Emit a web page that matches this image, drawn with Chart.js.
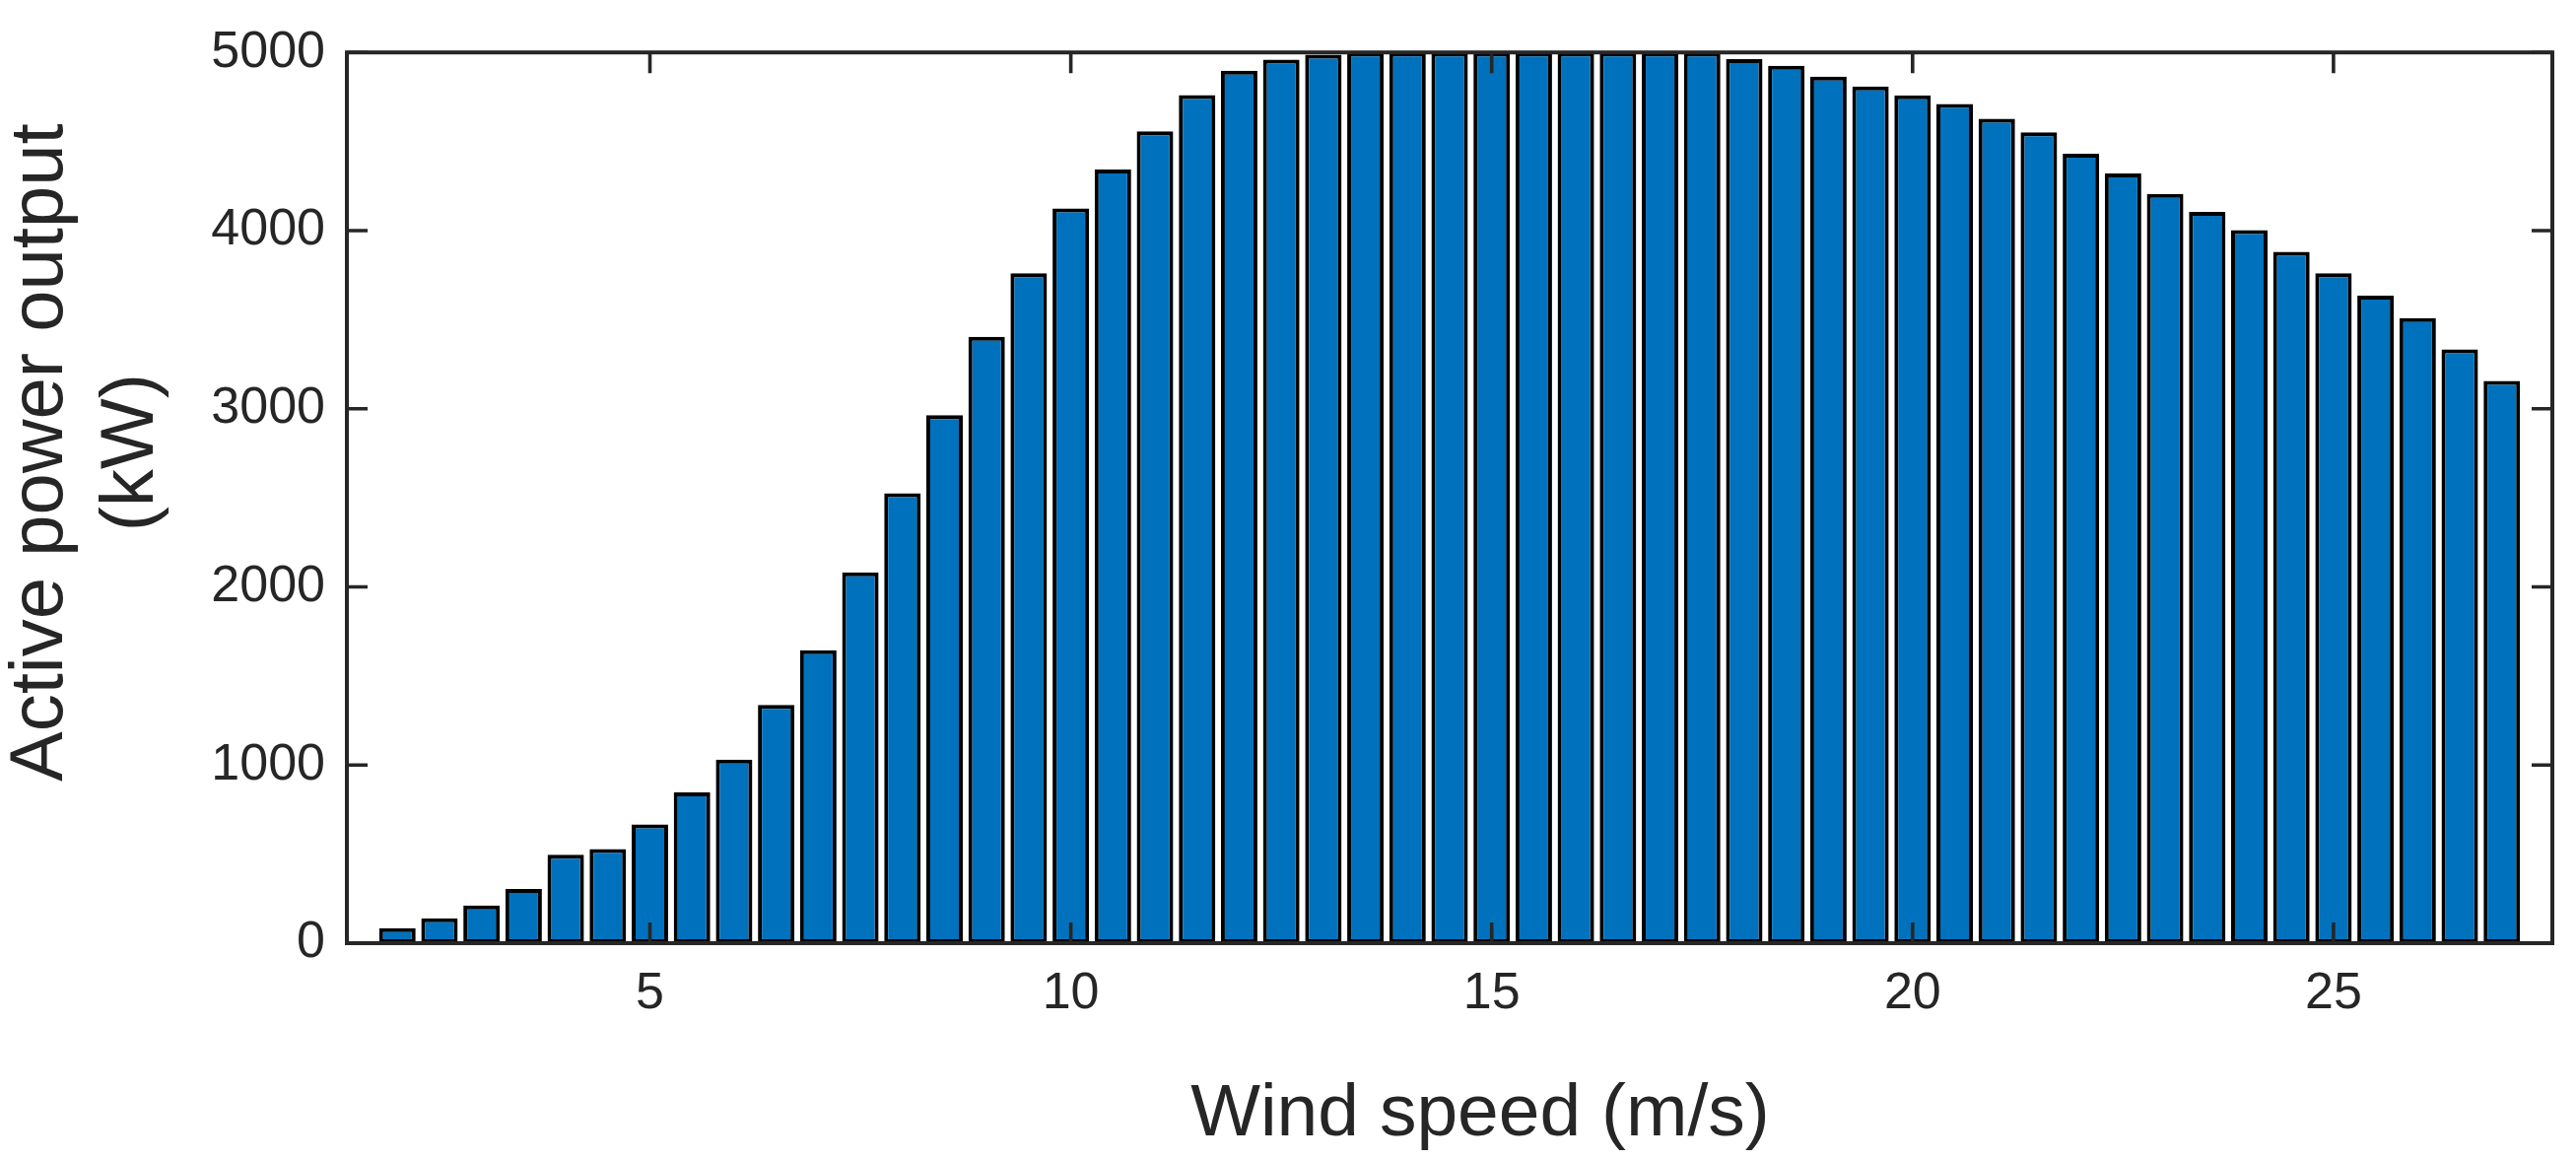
<!DOCTYPE html>
<html>
<head>
<meta charset="utf-8">
<script src="https://cdn.jsdelivr.net/npm/chart.js@4.4.1/dist/chart.umd.min.js"></script>
<style>
  html, body { margin: 0; padding: 0; background: #fff; }
  #wrap { width: 2614px; height: 1177px; }
</style>
</head>
<body>
<div id="wrap"><canvas id="powerChart" width="2614" height="1177"></canvas></div>
<script>
// wind speed bins (m/s)
const windSpeed = [2, 2.5, 3, 3.5, 4, 4.5, 5, 5.5, 6, 6.5, 7, 7.5, 8, 8.5, 9, 9.5,
    10, 10.5, 11, 11.5, 12, 12.5, 13, 13.5, 14, 14.5, 15, 15.5, 16, 16.5, 17, 17.5,
    18, 18.5, 19, 19.5, 20, 20.5, 21, 21.5, 22, 22.5, 23, 23.5, 24, 24.5, 25, 25.5,
    26, 26.5, 27];

// active power output (kW)
const powerKW = [84, 139, 212, 304, 496, 529, 666, 847, 1030, 1338, 1645, 2082,
    2525, 2964, 3404, 3761, 4124, 4343, 4557, 4760, 4898, 4960, 4987,
    5000, 5000, 5000, 5000, 5000, 5000, 5000, 5000, 5000,
    4963, 4925, 4864, 4809, 4759, 4711, 4628, 4551, 4431, 4320, 4206, 4105,
    4003, 3881, 3761, 3635, 3509, 3333, 3156];

const xTicks = [5, 10, 15, 20, 25];
const yTicks = [0, 1000, 2000, 3000, 4000, 5000];

const xTitle = 'Wind speed (m/s)';
const yTitle = ['Active power output', '(kW)'];

const axisColor = '#262626';
const fontFamily = '"Liberation Sans", Arial, Helvetica, sans-serif';

// MATLAB style box with inward ticks on all four sides
const boxPlugin = {
    id: 'boxPlugin',
    afterDatasetsDraw(chart) {
        const { ctx, chartArea: a, scales: { x, y } } = chart;
        const len = 21;
        ctx.save();
        ctx.strokeStyle = axisColor;
        ctx.lineWidth = 3.6;
        ctx.beginPath();
        xTicks.forEach(v => {
            const px = x.getPixelForValue(v);
            ctx.moveTo(px, a.bottom); ctx.lineTo(px, a.bottom - len);
            ctx.moveTo(px, a.top); ctx.lineTo(px, a.top + len);
        });
        yTicks.forEach(v => {
            const py = y.getPixelForValue(v);
            ctx.moveTo(a.left, py); ctx.lineTo(a.left + len, py);
            ctx.moveTo(a.right, py); ctx.lineTo(a.right - len, py);
        });
        ctx.stroke();
        ctx.lineWidth = 4;
        ctx.strokeRect(a.left, a.top, a.right - a.left, a.bottom - a.top);
        ctx.restore();
    }
};

const titlePlugin = {
    id: 'titlePlugin',
    afterDraw(chart) {
        const { ctx, chartArea: a } = chart;
        ctx.save();
        ctx.fillStyle = axisColor;
        ctx.textAlign = 'center';
        ctx.textBaseline = 'alphabetic';
        // x title
        ctx.font = '75px ' + fontFamily;
        ctx.fillText(xTitle, (a.left + a.right) / 2 + 31, a.bottom + 195);
        // y title, two lines
        ctx.font = '76px ' + fontFamily;
        const cy = a.top + 406;
        [a.left - 289, a.left - 197].forEach((bx, i) => {
            ctx.save();
            ctx.translate(bx, cy);
            ctx.rotate(-Math.PI / 2);
            ctx.fillText(yTitle[i], 0, 0);
            ctx.restore();
        });
        ctx.restore();
    }
};

const ctx = document.getElementById('powerChart').getContext('2d');
new Chart(ctx, {
    type: 'bar',
    data: {
        datasets: [{
            data: windSpeed.map((w, i) => ({ x: w, y: powerKW[i] })),
            backgroundColor: '#0072BD',
            borderColor: '#000000',
            borderWidth: 4,
            borderSkipped: false,
            barPercentage: 0.867,
            categoryPercentage: 1.0
        }]
    },
    options: {
        responsive: false,
        devicePixelRatio: 1,
        animation: false,
        layout: { padding: { top: 46, right: 24, bottom: 0, left: 0 } },
        plugins: {
            legend: { display: false },
            tooltip: { enabled: false }
        },
        scales: {
            x: {
                type: 'linear',
                offset: false,
                min: 1.4,
                max: 27.6,
                grid: { display: false, drawTicks: false },
                border: { display: false },
                afterBuildTicks: s => { s.ticks = xTicks.map(v => ({ value: v })); },
                afterFit: s => { s.height = 220; },
                ticks: {
                    color: axisColor,
                    font: { family: fontFamily, size: 52 },
                    padding: 20,
                    maxRotation: 0,
                    callback: v => String(v)
                }
            },
            y: {
                min: 0,
                max: 5000,
                grid: { display: false, drawTicks: false },
                border: { display: false },
                afterBuildTicks: s => { s.ticks = yTicks.map(v => ({ value: v })); },
                afterFit: s => { s.width = 352; },
                ticks: {
                    color: axisColor,
                    font: { family: fontFamily, size: 52 },
                    padding: 22,
                    callback: v => String(v)
                }
            }
        }
    },
    plugins: [boxPlugin, titlePlugin]
});
</script>
</body>
</html>
